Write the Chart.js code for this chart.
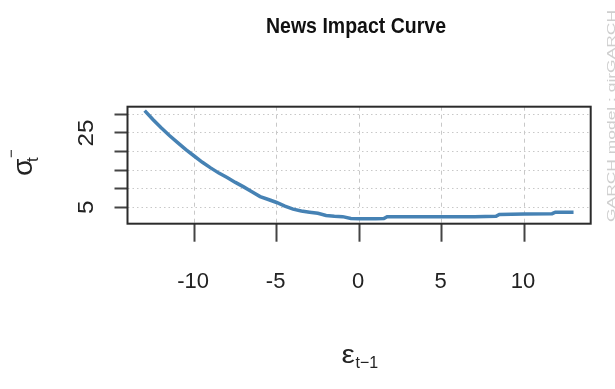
<!DOCTYPE html>
<html>
<head>
<meta charset="utf-8">
<script src="https://cdn.jsdelivr.net/npm/chart.js@4"></script>
<style>
  html, body { margin: 0; padding: 0; background: #fff; }
  #wrap { width: 615px; height: 389px; }
</style>
</head>
<body>
<div id="wrap"><canvas id="myChart" width="615" height="389"></canvas></div>
<script>
// values
const epsilon = [-13, -12.5, -12, -11.5, -11, -10.5, -10, -9.5, -9, -8.5, -8, -7.5, -7, -6.5, -6, -5.5, -5,
  -4.5, -4, -3.5, -3, -2.5, -2, -1.5, -1, -0.5, 0, 0.5, 1, 1.5, 1.7, 3, 5, 7, 8.3, 8.5, 10, 11.7, 11.9, 13];
const sigma = [31.0, 28.6, 26.4, 24.3, 22.4, 20.5, 18.8, 17.1, 15.6, 14.2, 13.0, 11.7, 10.5, 9.2, 7.9, 7.1, 6.3,
  5.3, 4.5, 4.0, 3.7, 3.4, 2.8, 2.6, 2.5, 2.0, 1.9, 1.9, 1.9, 2.0, 2.5, 2.5, 2.5, 2.5, 2.6, 3.1, 3.2, 3.3, 3.7, 3.7];

const xTicks = [-10, -5, 0, 5, 10];
const yTicks = [5, 10, 15, 20, 25, 30];
const yTickLabels = [5, 25];

const chartTitle = 'News Impact Curve';
const sideNote = 'GARCH model : gjrGARCH';

function txt(ctx, s, x, y, o) {
    ctx.save();
    ctx.font = o.font;
    ctx.fillStyle = o.color || '#222';
    ctx.textBaseline = 'alphabetic';
    ctx.textAlign = 'left';
    const w = ctx.measureText(s).width;
    const sx = o.fitW ? o.fitW / w : (o.sx || 1);
    ctx.translate(x, y);
    if (o.angle) ctx.rotate(o.angle);
    ctx.scale(sx, o.sy || 1);
    const off = o.align === 'center' ? -w / 2 : (o.align === 'right' ? -w : 0);
    ctx.fillText(s, off, 0);
    ctx.restore();
    return w * sx;
}

const textPlugin = {
    id: 'rtext',
    afterDraw(chart) {
        const ctx = chart.ctx;
        const a = chart.chartArea;
        const xs = chart.scales.x, ys = chart.scales.y;

        // box around plot
        ctx.save();
        ctx.strokeStyle = '#2b2b2b';
        ctx.lineWidth = 2;
        ctx.strokeRect(a.left, a.top, a.right - a.left, a.bottom - a.top);
        ctx.restore();

        // title
        txt(ctx, chartTitle, 356, 32.5, {font: 'bold 21px "Liberation Sans Narrow", "Liberation Sans"', fitW: 180, sy: 1.08, color: '#111', align: 'center'});

        // x tick labels
        xTicks.forEach(v => {
            txt(ctx, String(v), xs.getPixelForValue(v) - 1, 287.7, {font: '22px "Liberation Sans"', sy: 1.02, align: 'center'});
        });

        // y tick labels, rotated
        yTickLabels.forEach(v => {
            txt(ctx, String(v), 93.3, ys.getPixelForValue(v), {font: '22px "Liberation Sans"', align: 'center', angle: -Math.PI / 2, sx: 1.1});
        });

        // y axis title
        txt(ctx, 'σ', 32, 176, {font: '27px "Liberation Sans"', angle: -Math.PI / 2, sx: 1.05});
        txt(ctx, 't', 38, 162, {font: '17px "Liberation Sans"', angle: -Math.PI / 2});
        txt(ctx, '−', 16, 158, {font: '15px "Liberation Sans"', angle: -Math.PI / 2});

        // x axis title
        txt(ctx, 'ε', 341.5, 363.3, {font: '25px "Liberation Sans"', sx: 1.2});
        txt(ctx, 't−1', 355.5, 368.3, {font: '16px "Liberation Sans"', sy: 1.05});

        // side note
        txt(ctx, sideNote, 614.5, 222, {font: '11px "Liberation Sans"', color: '#cfcfcf', angle: -Math.PI / 2, fitW: 212});
    }
};

const ctx = document.getElementById('myChart').getContext('2d');
const myChart = new Chart(ctx, {
    type: 'line',
    data: {
        datasets: [{
            data: epsilon.map((e, i) => ({x: e, y: sigma[i]})),
            borderColor: '#4682b4',
            borderWidth: 3.5,
            pointRadius: 0,
            tension: 0,
            fill: false
        }]
    },
    options: {
        responsive: false,
        animation: false,
        devicePixelRatio: 1,
        layout: {padding: {left: 114.5, right: 24.3, top: 106.7, bottom: 147.3}},
        plugins: {legend: {display: false}, tooltip: {enabled: false}, title: {display: false}},
        scales: {
            x: {
                type: 'linear',
                min: -14.04,
                max: 14.04,
                afterBuildTicks: s => { s.ticks = xTicks.map(v => ({value: v})); },
                afterFit: s => { s.height = 18; },
                ticks: {display: false},
                grid: {color: '#c8c8c8', lineWidth: 1, tickLength: 18, tickColor: '#444', tickWidth: 2},
                border: {display: false, dash: [4, 4]}
            },
            y: {
                type: 'linear',
                min: 0.6,
                max: 32.05,
                afterBuildTicks: s => { s.ticks = yTicks.map(v => ({value: v})); },
                afterFit: s => { s.width = 13; },
                ticks: {display: false},
                grid: {color: '#c8c8c8', lineWidth: 1, tickLength: 13, tickColor: '#444', tickWidth: 2},
                border: {display: false, dash: [1.5, 3]}
            }
        }
    },
    plugins: [textPlugin]
});
</script>
</body>
</html>
